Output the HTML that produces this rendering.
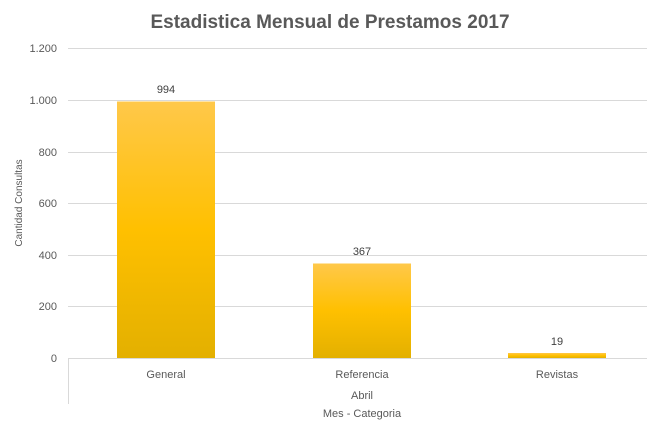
<!DOCTYPE html>
<html><head><style>body{margin:0;background:#fff}</style></head><body>
<svg width="647" height="430" xmlns="http://www.w3.org/2000/svg" font-family="Liberation Sans, sans-serif">
<defs><linearGradient id="g" x1="0" y1="0" x2="0" y2="1">
<stop offset="0" stop-color="#ffc84a"/><stop offset="0.5" stop-color="#ffc000"/><stop offset="1" stop-color="#e3b000"/></linearGradient></defs>
<rect width="647" height="430" fill="#fff"/>
<text x="330" y="28" text-anchor="middle" font-size="19" font-weight="bold" fill="#595959">Estadistica Mensual de Prestamos 2017</text>
<g stroke="#d9d9d9" stroke-width="1">
<line x1="68" x2="655" y1="48.5" y2="48.5"/><line x1="68" x2="655" y1="100.5" y2="100.5"/>
<line x1="68" x2="655" y1="152.5" y2="152.5"/><line x1="68" x2="655" y1="203.5" y2="203.5"/>
<line x1="68" x2="655" y1="255.5" y2="255.5"/><line x1="68" x2="655" y1="306.5" y2="306.5"/>
<line x1="68" x2="655" y1="358.5" y2="358.5"/><line x1="68.5" x2="68.5" y1="358" y2="404"/>
</g>
<g font-size="11" fill="#595959" text-anchor="end">
<text x="57" y="52">1.200</text><text x="57" y="104">1.000</text><text x="57" y="156">800</text>
<text x="57" y="207">600</text><text x="57" y="259">400</text><text x="57" y="310">200</text><text x="57" y="362">0</text>
</g>
<text transform="translate(22,203) rotate(-90)" text-anchor="middle" font-size="10" fill="#595959">Cantidad Consultas</text>
<rect x="117" y="101.5" width="98" height="256.5" fill="url(#g)"/>
<rect x="313" y="263.5" width="98" height="94.5" fill="url(#g)"/>
<rect x="508" y="353" width="98" height="5" fill="url(#g)"/>
<g font-size="11" fill="#404040" text-anchor="middle">
<text x="166" y="93">994</text><text x="362" y="255">367</text><text x="557" y="345">19</text>
</g>
<g font-size="11" fill="#595959" text-anchor="middle">
<text x="166" y="378">General</text><text x="362" y="378">Referencia</text><text x="557" y="378">Revistas</text>
<text x="362" y="399">Abril</text><text x="362" y="417">Mes - Categoria</text>
</g>
</svg>
</body></html>
